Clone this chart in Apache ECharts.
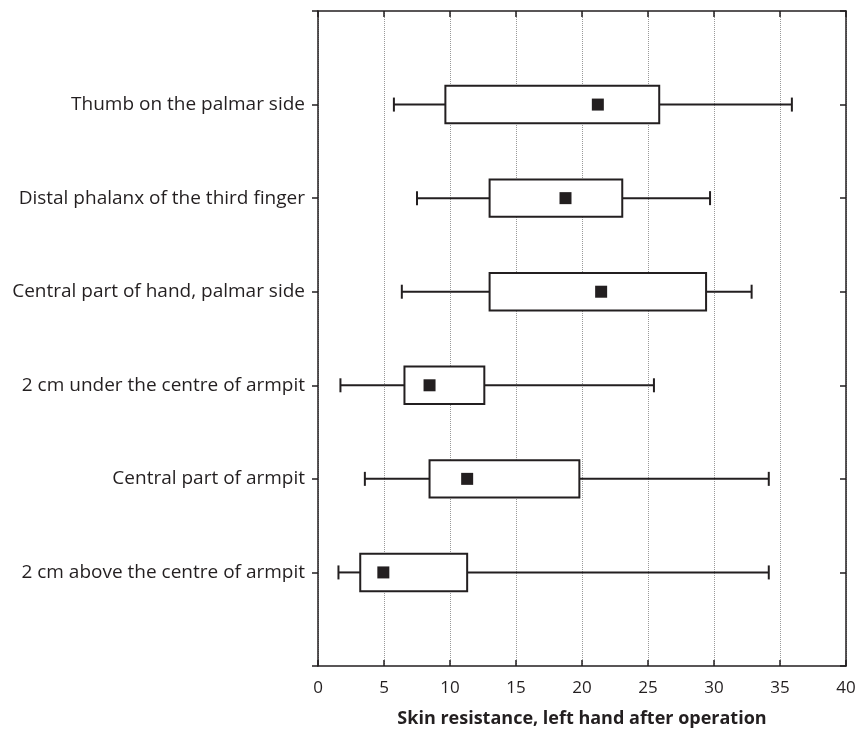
<!DOCTYPE html>
<html>
<head>
<meta charset="utf-8">
<script src="https://cdn.jsdelivr.net/npm/echarts@6/dist/echarts.min.js"></script>
<style>
  html, body { margin: 0; padding: 0; background: #fff; }
  #main { width: 862px; height: 733px; }
</style>
</head>
<body>
<div id="main"></div>
<script>
// categories, top to bottom
var sites = [
	"Thumb on the palmar side",
	"Distal phalanx of the third finger",
	"Central part of hand, palmar side",
	"2 cm under the centre of armpit",
	"Central part of armpit",
	"2 cm above the centre of armpit"
];
var mins   = [5.75, 7.5, 6.35, 1.7, 3.55, 1.55];
var q1s    = [9.65, 13.0, 13.0, 6.55, 8.45, 3.2];
var marks  = [21.2, 18.75, 21.45, 8.45, 11.3, 4.95];
var q3s    = [25.85, 23.05, 29.4, 12.6, 19.8, 11.3];
var maxs   = [35.9, 29.7, 32.85, 25.45, 34.15, 34.15];
var xTicks = [0, 5, 10, 15, 20, 25, 30, 35, 40];

var ink = "#231f20";
var font = "Open Sans";

// y position of each site (top one highest)
var yPos = function(i){ return sites.length - i; };

var boxData = [], markData = [];
for(var i = 0; i < sites.length; i++){
	boxData.push([yPos(i), mins[i], q1s[i], q3s[i], maxs[i]]);
	markData.push([marks[i], yPos(i)]);
}

var chart = echarts.init(document.getElementById('main'));

var renderBox = function(params, api){
	var y = api.value(0);
	var lo = api.coord([api.value(1), y]);
	var a = api.coord([api.value(2), y]);
	var b = api.coord([api.value(3), y]);
	var hi = api.coord([api.value(4), y]);
	var unit = api.size([0, 1])[1];
	var bh = unit * 0.2, ch = 7;
	var st = { stroke: ink, lineWidth: 2, fill: null };
	return {
		type: 'group',
		children: [
			{ type: 'line', shape: { x1: lo[0], y1: lo[1], x2: a[0], y2: a[1] }, style: st },
			{ type: 'line', shape: { x1: b[0], y1: b[1], x2: hi[0], y2: hi[1] }, style: st },
			{ type: 'line', shape: { x1: lo[0], y1: lo[1] - ch, x2: lo[0], y2: lo[1] + ch }, style: st },
			{ type: 'line', shape: { x1: hi[0], y1: hi[1] - ch, x2: hi[0], y2: hi[1] + ch }, style: st },
			{ type: 'rect', shape: { x: a[0], y: a[1] - bh, width: b[0] - a[0], height: bh * 2 },
			  style: { stroke: ink, lineWidth: 2, fill: '#fff' } }
		]
	};
};

var lineSt = { color: ink, width: 1.5 };

var xBase = {
	type: 'value',
	min: xTicks[0],
	max: xTicks[xTicks.length - 1],
	interval: xTicks[1] - xTicks[0],
	axisLine: { show: true, onZero: false, lineStyle: lineSt },
	axisTick: { show: true, inside: true, length: 6, lineStyle: lineSt }
};

var yBase = {
	type: 'value',
	min: 0,
	max: sites.length + 1,
	interval: 1,
	axisLine: { show: true, onZero: false, lineStyle: lineSt },
	splitLine: { show: false }
};

var option = {
	animation: false,
	backgroundColor: '#fff',
	grid: { left: 318, right: 16, top: 11, bottom: 64, containLabel: false },
	xAxis: [
		Object.assign({}, xBase, {
			position: 'bottom',
			name: 'Skin resistance, left hand after operation',
			nameLocation: 'middle',
			nameGap: 44,
			nameTextStyle: { color: ink, fontFamily: font, fontSize: 18, fontWeight: 'bold' },
			axisLabel: { color: ink, fontFamily: font, fontSize: 17, margin: 14 },
			splitLine: { show: true, lineStyle: { color: '#999', type: 'dotted', width: 1 } }
		}),
		Object.assign({}, xBase, {
			position: 'top',
			axisLabel: { show: false },
			splitLine: { show: false }
		})
	],
	yAxis: [
		Object.assign({}, yBase, {
			position: 'left',
			axisTick: { show: true, inside: false, length: 6, lineStyle: lineSt },
			axisLabel: {
				color: ink, fontFamily: font, fontSize: 19, margin: 13,
				formatter: function(v){
					var idx = sites.length - v;
					return (idx >= 0 && idx < sites.length) ? sites[idx] : '';
				}
			}
		}),
		Object.assign({}, yBase, {
			position: 'right',
			axisTick: { show: true, inside: true, length: 6, lineStyle: lineSt },
			axisLabel: { show: false }
		})
	],
	series: [
		{
			type: 'custom',
			renderItem: renderBox,
			encode: { x: [1, 2, 3, 4], y: 0 },
			data: boxData,
			z: 2
		},
		{
			type: 'scatter',
			symbol: 'rect',
			symbolSize: 12,
			itemStyle: { color: ink, opacity: 1 },
			data: markData,
			z: 3
		}
	]
};

chart.setOption(option);
</script>
</body>
</html>
